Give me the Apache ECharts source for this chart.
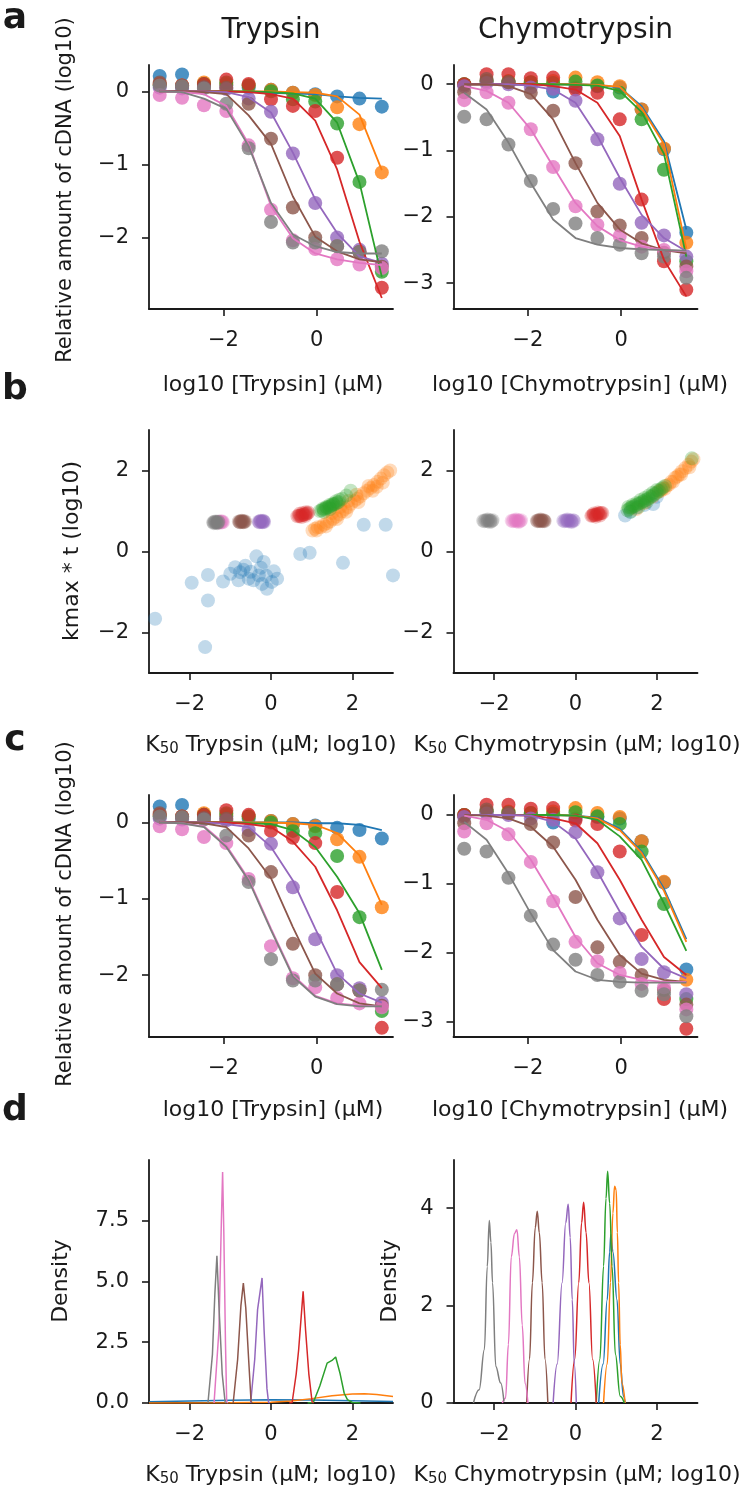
<!DOCTYPE html>
<html>
<head>
<meta charset="utf-8">
<script src="https://cdn.jsdelivr.net/npm/echarts@6.0.0/dist/echarts.min.js"></script>
<style>
  html, body { margin: 0; padding: 0; background: #fff; }
  #container { width: 743px; height: 1500px; }
</style>
</head>
<body>
<div id="container"></div>
<script>
var dom = document.getElementById('container');
var myChart = echarts.init(dom, null, { renderer: 'canvas' });

// ---- data ----
// colour order: blue, orange, green, red, purple, brown, pink, gray
var palette = ['#1f77b4', '#ff7f0e', '#2ca02c', '#d62728', '#9467bd', '#8c564b', '#e377c2', '#7f7f7f'];

// log10 protease concentration (uM), 3-fold dilutions
var concX = [-3.37, -2.89, -2.42, -1.94, -1.46, -0.98, -0.51, -0.03, 0.44, 0.92, 1.40];

// measured log10 relative cDNA (same points in panels a and c)
var trypsinPoints = [
  [0.21, 0.23, 0.10, 0.08, 0.05, 0.02, -0.02, -0.04, -0.07, -0.10, -0.21],
  [0.10, 0.08, 0.12, 0.10, 0.08, 0.02, -0.02, -0.05, -0.22, -0.45, -1.11],
  [0.08, 0.06, 0.10, 0.12, 0.08, 0.00, -0.11, -0.14, -0.44, -1.24, -2.47],
  [0.10, 0.08, 0.10, 0.16, 0.10, -0.11, -0.20, -0.27, -0.91, -2.20, -2.69],
  [0.05, 0.04, 0.05, 0.03, -0.10, -0.28, -0.85, -1.53, -2.00, -2.17, -2.36],
  [0.12, 0.08, 0.06, 0.05, -0.17, -0.65, -1.59, -2.00, -2.12, -2.20, -2.40],
  [-0.05, -0.09, -0.19, -0.27, -0.74, -1.62, -2.04, -2.16, -2.30, -2.37, -2.42],
  [0.08, 0.07, 0.04, -0.17, -0.78, -1.79, -2.07, -2.07, -2.12, -2.20, -2.19]
];
var chymoPoints = [
  [0.00, 0.05, 0.03, 0.02, -0.11, -0.05, -0.03, -0.05, -0.38, -0.98, -2.24],
  [0.00, 0.05, 0.05, 0.03, 0.05, 0.10, 0.03, -0.03, -0.38, -0.97, -2.39],
  [0.00, 0.05, 0.04, 0.03, 0.02, 0.04, -0.02, -0.13, -0.53, -1.29, -2.67],
  [0.00, 0.15, 0.15, 0.09, 0.10, -0.08, -0.13, -0.53, -1.74, -2.67, -3.10],
  [-0.03, 0.02, 0.00, -0.05, -0.07, -0.25, -0.83, -1.50, -2.09, -2.28, -2.60],
  [-0.12, 0.08, 0.03, -0.13, -0.40, -1.19, -1.92, -2.13, -2.32, -2.54, -2.75],
  [-0.24, -0.12, -0.28, -0.68, -1.25, -1.84, -2.12, -2.29, -2.45, -2.50, -2.82],
  [-0.49, -0.53, -0.91, -1.46, -1.88, -2.10, -2.32, -2.42, -2.55, -2.60, -2.92]
];

// fitted curves, panel a
var trypsinFitA = [
  [0, 0, 0, 0, -0.01, -0.02, -0.03, -0.04, -0.07, -0.09, -0.10],
  [0, 0, 0, 0, 0, 0, -0.01, -0.02, -0.07, -0.32, -1.08],
  [0, 0, 0, 0, 0, -0.01, -0.03, -0.10, -0.43, -1.25, -2.54],
  [0, 0, 0, 0, -0.01, -0.04, -0.10, -0.40, -1.07, -2.06, -2.83],
  [0, 0, 0, -0.01, -0.08, -0.29, -0.84, -1.48, -1.94, -2.26, -2.35],
  [0, 0, -0.01, -0.04, -0.33, -0.72, -1.44, -1.99, -2.19, -2.30, -2.34],
  [0, -0.01, -0.04, -0.20, -0.72, -1.57, -2.01, -2.22, -2.30, -2.35, -2.38],
  [0, -0.01, -0.10, -0.24, -0.75, -1.53, -1.96, -2.12, -2.20, -2.22, -2.22]
];
var chymoFitA = [
  [0, 0, 0, 0, 0, 0, -0.01, -0.05, -0.33, -0.86, -2.19],
  [0, 0, 0, 0, 0, 0, -0.01, -0.04, -0.36, -0.90, -2.48],
  [0, 0, 0, 0, 0, -0.01, -0.02, -0.10, -0.42, -1.05, -2.60],
  [0, 0, 0, 0, -0.03, -0.08, -0.28, -0.78, -1.74, -2.65, -3.20],
  [0, 0, 0, -0.02, -0.08, -0.28, -0.78, -1.41, -1.97, -2.32, -2.52],
  [0, 0, -0.03, -0.15, -0.53, -1.19, -1.79, -2.19, -2.40, -2.50, -2.55],
  [-0.03, -0.10, -0.28, -0.68, -1.24, -1.79, -2.14, -2.35, -2.45, -2.50, -2.52],
  [-0.13, -0.38, -0.88, -1.49, -2.04, -2.32, -2.42, -2.47, -2.49, -2.50, -2.51]
];

// fitted curves, panel c
var trypsinFitC = [
  [0, 0, 0, 0, 0, 0, 0, -0.01, -0.01, -0.03, -0.10],
  [0, 0, 0, 0, 0, 0, -0.01, -0.03, -0.14, -0.43, -1.08],
  [0, 0, 0, 0, -0.01, -0.02, -0.10, -0.32, -0.71, -1.19, -1.93],
  [0, 0, 0, 0, -0.02, -0.06, -0.25, -0.58, -1.15, -1.83, -2.17],
  [0, 0, 0, -0.02, -0.06, -0.32, -0.76, -1.39, -1.98, -2.24, -2.36],
  [0, 0, -0.01, -0.06, -0.34, -0.73, -1.37, -1.98, -2.24, -2.37, -2.41],
  [0, -0.01, -0.05, -0.30, -0.74, -1.39, -2.00, -2.27, -2.37, -2.40, -2.41],
  [0, -0.01, -0.06, -0.32, -0.76, -1.41, -2.02, -2.28, -2.38, -2.41, -2.41]
];
var chymoFitC = [
  [0, 0, 0, 0, 0, -0.01, -0.04, -0.20, -0.53, -1.07, -1.80],
  [0, 0, 0, 0, 0, -0.01, -0.05, -0.22, -0.55, -1.10, -1.84],
  [0, 0, 0, 0, 0, -0.01, -0.07, -0.31, -0.65, -1.28, -1.97],
  [0, 0, 0, -0.01, -0.05, -0.12, -0.41, -0.94, -1.52, -2.06, -2.32],
  [0, 0, 0, -0.01, -0.10, -0.34, -0.82, -1.40, -1.91, -2.23, -2.37],
  [0, -0.01, -0.05, -0.17, -0.46, -0.94, -1.52, -2.03, -2.30, -2.39, -2.42],
  [-0.01, -0.07, -0.24, -0.65, -1.19, -1.77, -2.15, -2.32, -2.39, -2.42, -2.42],
  [-0.10, -0.36, -0.85, -1.43, -1.96, -2.27, -2.39, -2.42, -2.43, -2.43, -2.43]
];

// panel b: posterior samples [K50, kmax*t]
var trypsinSamples = [
  [[-2.85, -1.66], [-1.95, -0.77], [-1.62, -2.36], [-1.55, -0.58], [-1.55, -1.21], [-1.18, -0.74], [-1.00, -0.55],
   [-0.88, -0.39], [-0.80, -0.71], [-0.76, -0.51], [-0.68, -0.45], [-0.63, -0.35], [-0.55, -0.67], [-0.50, -0.50],
   [-0.43, -0.71], [-0.36, -0.12], [-0.30, -0.59], [-0.25, -0.40], [-0.22, -0.80], [-0.18, -0.26], [-0.12, -0.60],
   [-0.10, -0.92], [0.02, -0.75], [0.07, -0.49], [0.15, -0.67], [0.72, -0.06], [0.95, -0.03], [1.77, -0.28],
   [2.28, 0.66], [2.82, 0.66], [3.00, -0.59]],
  [[1.02, 0.52], [1.08, 0.56], [1.15, 0.60], [1.22, 0.60], [1.30, 0.66], [1.38, 0.70], [1.45, 0.74], [1.52, 0.80],
   [1.60, 0.86], [1.68, 0.92], [1.75, 0.99], [1.82, 1.05], [1.90, 1.10], [1.97, 1.18], [2.05, 1.25], [2.12, 1.30],
   [2.20, 1.36], [2.28, 1.44], [2.36, 1.50], [2.45, 1.57], [2.53, 1.64], [2.62, 1.72], [2.70, 1.80], [2.78, 1.88],
   [2.86, 1.95], [2.93, 2.00], [1.70, 1.10], [1.90, 1.25], [2.10, 1.40], [2.40, 1.62], [1.50, 0.95], [2.60, 1.60],
   [1.12, 0.52], [1.35, 0.62], [1.62, 0.80], [1.85, 0.98], [2.15, 1.22], [2.50, 1.50], [2.75, 1.70]],
  [[1.20, 1.00], [1.25, 1.02], [1.30, 1.04], [1.34, 1.06], [1.38, 1.08], [1.42, 1.10], [1.46, 1.12], [1.50, 1.14],
   [1.54, 1.16], [1.58, 1.18], [1.62, 1.20], [1.66, 1.22], [1.28, 1.06], [1.36, 1.10], [1.44, 1.15], [1.52, 1.18],
   [1.60, 1.24], [1.68, 1.28], [1.30, 0.98], [1.45, 1.05], [1.75, 1.30], [1.85, 1.38], [1.96, 1.50]],
  [[0.65, 0.87], [0.68, 0.88], [0.71, 0.88], [0.74, 0.89], [0.77, 0.90], [0.80, 0.91], [0.83, 0.92], [0.86, 0.93],
   [0.89, 0.94], [0.92, 0.96], [0.70, 0.93], [0.78, 0.95], [0.86, 0.97], [0.75, 0.85], [0.85, 0.88]],
  [[-0.30, 0.74], [-0.28, 0.73], [-0.26, 0.75], [-0.24, 0.74], [-0.22, 0.73], [-0.20, 0.75], [-0.18, 0.74],
   [-0.17, 0.73], [-0.25, 0.76], [-0.21, 0.72], [-0.29, 0.72], [-0.19, 0.76]],
  [[-0.79, 0.74], [-0.77, 0.73], [-0.75, 0.75], [-0.73, 0.74], [-0.71, 0.73], [-0.69, 0.75], [-0.67, 0.74],
   [-0.65, 0.73], [-0.64, 0.75], [-0.72, 0.76], [-0.76, 0.72], [-0.68, 0.72]],
  [[-1.30, 0.73], [-1.27, 0.72], [-1.24, 0.74], [-1.22, 0.73], [-1.20, 0.72], [-1.18, 0.73], [-1.25, 0.71], [-1.21, 0.75]],
  [[-1.42, 0.72], [-1.40, 0.73], [-1.38, 0.71], [-1.36, 0.72], [-1.34, 0.73], [-1.33, 0.71], [-1.31, 0.72],
   [-1.30, 0.74], [-1.29, 0.72], [-1.37, 0.74], [-1.41, 0.70], [-1.32, 0.70]]
];
var chymoSamples = [
  [[1.22, 0.89], [1.35, 0.98], [1.50, 1.08], [1.70, 1.15], [1.91, 1.17], [2.00, 1.35]],
  [[1.50, 1.05], [1.70, 1.20], [1.90, 1.35], [2.05, 1.48], [2.10, 1.50], [2.15, 1.55], [2.25, 1.63], [2.30, 1.65],
   [2.35, 1.72], [2.45, 1.82], [2.50, 1.85], [2.55, 1.90], [2.62, 1.98], [2.70, 2.06], [2.78, 2.14], [2.85, 2.22], [2.90, 2.28],
   [2.20, 1.55], [2.40, 1.72], [2.60, 1.90], [2.80, 2.08]],
  [[1.28, 1.02], [1.32, 1.05], [1.36, 1.08], [1.40, 1.10], [1.45, 1.12], [1.50, 1.15], [1.55, 1.18], [1.60, 1.20],
   [1.65, 1.23], [1.70, 1.26], [1.75, 1.28], [1.80, 1.31], [1.85, 1.35], [1.90, 1.38], [1.95, 1.42], [2.00, 1.45],
   [2.05, 1.50], [2.10, 1.54], [2.15, 1.58], [2.20, 1.62], [1.30, 1.10], [1.40, 1.15], [1.50, 1.20], [1.60, 1.27],
   [1.70, 1.32], [1.80, 1.38], [1.90, 1.45], [2.00, 1.52], [1.35, 0.98], [1.55, 1.10], [1.75, 1.22], [2.86, 2.30]],
  [[0.39, 0.88], [0.42, 0.89], [0.45, 0.90], [0.48, 0.90], [0.51, 0.91], [0.54, 0.92], [0.57, 0.93], [0.60, 0.94],
   [0.63, 0.95], [0.66, 0.95], [0.45, 0.94], [0.55, 0.96], [0.50, 0.86], [0.60, 0.89]],
  [[-0.30, 0.76], [-0.27, 0.75], [-0.24, 0.77], [-0.21, 0.76], [-0.18, 0.75], [-0.15, 0.77], [-0.12, 0.76],
   [-0.09, 0.75], [-0.06, 0.77], [-0.04, 0.76], [-0.20, 0.79], [-0.10, 0.73]],
  [[-0.95, 0.76], [-0.93, 0.75], [-0.91, 0.77], [-0.89, 0.76], [-0.87, 0.75], [-0.85, 0.77], [-0.83, 0.76],
   [-0.81, 0.75], [-0.79, 0.77], [-0.77, 0.76], [-0.76, 0.75], [-0.86, 0.79]],
  [[-1.57, 0.76], [-1.54, 0.75], [-1.51, 0.77], [-1.48, 0.76], [-1.45, 0.75], [-1.42, 0.77], [-1.39, 0.76],
   [-1.36, 0.75], [-1.34, 0.77], [-1.46, 0.79], [-1.40, 0.73]],
  [[-2.27, 0.76], [-2.24, 0.75], [-2.21, 0.77], [-2.18, 0.76], [-2.15, 0.75], [-2.12, 0.77], [-2.09, 0.76],
   [-2.06, 0.75], [-2.04, 0.77], [-2.16, 0.79], [-2.10, 0.73]]
];

// panel d: K50 posterior densities [x, density]
var trypsinDensity = [
  [[-3, 0.05], [-2, 0.08], [-1, 0.11], [0, 0.13], [1, 0.12], [2, 0.09], [3, 0.06]],
  [[-3, 0.0], [-1, 0.01], [0, 0.03], [0.5, 0.08], [1, 0.18], [1.5, 0.30], [2, 0.37], [2.3, 0.38], [2.6, 0.35], [3, 0.27]],
  [[0.90, 0], [1.04, 0.02], [1.20, 0.70], [1.38, 1.64], [1.50, 1.75], [1.59, 1.89], [1.70, 1.20], [1.80, 0.40], [1.88, 0.14], [2.00, 0.02], [2.20, 0]],
  [[0.45, 0], [0.52, 0.02], [0.62, 1.20], [0.68, 2.19], [0.74, 3.50], [0.79, 4.59], [0.85, 3.00], [0.93, 1.20], [1.01, 0.05], [1.05, 0]],
  [[-0.50, 0], [-0.47, 0.02], [-0.40, 1.80], [-0.33, 3.84], [-0.29, 3.90], [-0.22, 5.14], [-0.17, 3.00], [-0.10, 0.60], [-0.06, 0.02], [-0.03, 0]],
  [[-0.93, 0], [-0.90, 0.03], [-0.82, 1.80], [-0.74, 4.00], [-0.68, 4.93], [-0.62, 3.90], [-0.55, 1.80], [-0.49, 0.05], [-0.46, 0]],
  [[-1.40, 0], [-1.37, 0.03], [-1.28, 3.00], [-1.22, 7.50], [-1.19, 9.50], [-1.16, 7.00], [-1.12, 2.50], [-1.09, 0.05], [-1.06, 0]],
  [[-1.55, 0], [-1.51, 0.03], [-1.44, 2.00], [-1.38, 4.50], [-1.33, 6.05], [-1.28, 4.00], [-1.20, 1.20], [-1.13, 0.05], [-1.10, 0]]
];
var chymoDensity = [
  [[0.57, 0], [0.68, 0.80], [0.78, 2.12], [0.84, 3.10], [0.87, 3.46], [0.92, 3.10], [1.02, 2.12], [1.10, 0.80], [1.18, 0.14], [1.22, 0]],
  [[0.69, 0], [0.78, 0.80], [0.86, 2.47], [0.92, 3.90], [0.96, 4.45], [1.00, 4.38], [1.03, 3.50], [1.06, 2.47], [1.10, 1.20], [1.14, 0.41], [1.22, 0]],
  [[0.51, 0], [0.60, 0.90], [0.69, 2.81], [0.75, 4.20], [0.79, 4.76], [0.84, 4.10], [0.90, 2.81], [0.98, 1.00], [1.10, 0.14], [1.20, 0]],
  [[-0.11, 0], [-0.02, 0.90], [0.08, 2.47], [0.15, 3.70], [0.20, 4.12], [0.26, 3.50], [0.33, 2.47], [0.42, 0.90], [0.51, 0]],
  [[-0.55, 0], [-0.45, 0.80], [-0.33, 2.47], [-0.24, 3.70], [-0.18, 4.08], [-0.13, 3.40], [-0.08, 2.12], [-0.03, 0.80], [0.02, 0]],
  [[-1.20, 0], [-1.13, 0.90], [-1.06, 2.47], [-0.99, 3.60], [-0.94, 3.94], [-0.89, 3.50], [-0.82, 2.47], [-0.75, 0.90], [-0.68, 0]],
  [[-1.80, 0], [-1.72, 0.10], [-1.65, 1.20], [-1.58, 3.00], [-1.50, 3.48], [-1.44, 3.56], [-1.38, 3.00], [-1.31, 1.60], [-1.24, 0.40], [-1.17, 0]],
  [[-2.51, 0], [-2.37, 0.27], [-2.24, 1.10], [-2.17, 2.80], [-2.12, 3.75], [-2.08, 3.30], [-2.04, 2.47], [-1.96, 0.75], [-1.84, 0.41], [-1.76, 0.03]]
];

// axis limits and ticks per panel (a-left, a-right, b-left, b-right, c-left, c-right, d-left, d-right)
var xLimits = [[-3.6, 1.64], [-3.6, 1.64], [-3, 3], [-3, 3], [-3.6, 1.64], [-3.6, 1.64], [-3, 3], [-3, 3]];
var xTicks = [[-2, 0], [-2, 0], [-2, 0, 2], [-2, 0, 2], [-2, 0], [-2, 0], [-2, 0, 2], [-2, 0, 2]];
var yLimits = [[-2.98, 0.36], [-3.39, 0.29], [-3, 3], [-3, 3], [-2.81, 0.36], [-3.22, 0.29], [0, 9.99], [0, 4.99]];
var yTicks = [[-2, -1, 0], [-3, -2, -1, 0], [-2, 0, 2], [-2, 0, 2], [-2, -1, 0], [-3, -2, -1, 0], [0, 2.5, 5, 7.5], [0, 2, 4]];

// ---- layout ----
var FONT = 'DejaVu Sans';
var INK = '#1a1a1a';
var colLeft = [149, 453.5];
var colWidth = 244;
var rowTop = [65, 430, 795, 1160];
var rowHeight = [244, 243, 242, 243];

function minusFmt(v) {
  return (v < 0 ? '\u2212' : '') + Math.abs(v);
}
function oneDecFmt(v) {
  return v.toFixed(1);
}

var grids = [], xAxes = [], yAxes = [], series = [];
for (var g = 0; g < 8; g++) {
  var r = Math.floor(g / 2), c = g % 2;
  grids.push({ left: colLeft[c], top: rowTop[r], width: colWidth, height: rowHeight[r], outerBoundsMode: 'none' });
  xAxes.push({
    gridIndex: g, type: 'value', min: xLimits[g][0], max: xLimits[g][1],
    axisLine: { onZero: false, lineStyle: { color: INK, width: 1.8 } },
    axisTick: { customValues: xTicks[g], length: 7, lineStyle: { color: INK, width: 1.6 } },
    axisLabel: { customValues: xTicks[g], formatter: minusFmt, fontSize: 21, fontFamily: FONT, color: INK, margin: 21 },
    splitLine: { show: false }
  });
  yAxes.push({
    gridIndex: g, type: 'value', min: yLimits[g][0], max: yLimits[g][1],
    axisLine: { show: true, onZero: false, lineStyle: { color: INK, width: 1.8 } },
    axisTick: { show: true, customValues: yTicks[g], length: 7, lineStyle: { color: INK, width: 1.6 } },
    axisLabel: { customValues: yTicks[g], formatter: g === 6 ? oneDecFmt : minusFmt, fontSize: 21, fontFamily: FONT, color: INK, margin: 20 },
    splitLine: { show: false }
  });
}

function addCurvePanel(g, points, fits) {
  for (var k = 0; k < palette.length; k++) {
    series.push({
      type: 'scatter', xAxisIndex: g, yAxisIndex: g, symbolSize: 14,
      itemStyle: { color: palette[k], opacity: 0.8 },
      data: concX.map(function (x, j) { return [x, points[k][j]]; })
    });
    series.push({
      type: 'line', xAxisIndex: g, yAxisIndex: g, symbol: 'none',
      lineStyle: { color: palette[k], width: 1.8 }, itemStyle: { color: palette[k] },
      data: concX.map(function (x, j) { return [x, fits[k][j]]; })
    });
  }
}
function addSamplePanel(g, samples) {
  for (var k = 0; k < palette.length; k++) {
    series.push({
      type: 'scatter', xAxisIndex: g, yAxisIndex: g, symbolSize: 14,
      itemStyle: { color: palette[k], opacity: 0.28 },
      data: samples[k]
    });
  }
}
function addDensityPanel(g, curves, smooth) {
  for (var k = 0; k < palette.length; k++) {
    series.push({
      type: 'line', xAxisIndex: g, yAxisIndex: g, symbol: 'none', smooth: smooth, smoothMonotone: 'x',
      lineStyle: { color: palette[k], width: 1.5 }, itemStyle: { color: palette[k] },
      data: curves[k]
    });
  }
}

addCurvePanel(0, trypsinPoints, trypsinFitA);
addCurvePanel(1, chymoPoints, chymoFitA);
addSamplePanel(2, trypsinSamples);
addSamplePanel(3, chymoSamples);
addCurvePanel(4, trypsinPoints, trypsinFitC);
addCurvePanel(5, chymoPoints, chymoFitC);
addDensityPanel(6, trypsinDensity, false);
addDensityPanel(7, chymoDensity, 0.4);

// ---- text ----
function label(x, y, text, size, opts) {
  opts = opts || {};
  return {
    type: 'text', x: x, y: y, rotation: opts.rotate ? Math.PI / 2 : 0, silent: true,
    style: {
      text: text, fontSize: size, fontFamily: FONT, fontWeight: opts.bold ? 'bold' : 'normal',
      fill: INK, align: 'center', verticalAlign: 'middle', lineHeight: size + 2,
      rich: { s: { fontSize: 15, fontFamily: FONT, fill: INK, lineHeight: 8, verticalAlign: 'bottom' } }
    }
  };
}

var graphics = [
  label(15, 19, 'a', 36, { bold: true }),
  label(15, 390, 'b', 36, { bold: true }),
  label(15, 741, 'c', 36, { bold: true }),
  label(15, 1111, 'd', 36, { bold: true }),
  label(271, 31, 'Trypsin', 28),
  label(575.5, 31, 'Chymotrypsin', 28),
  label(273, 385, 'log10 [Trypsin] (\u03bcM)', 22),
  label(580, 385, 'log10 [Chymotrypsin] (\u03bcM)', 22),
  label(271, 745, 'K{s|50} Trypsin (\u03bcM; log10)', 22),
  label(577, 745, 'K{s|50} Chymotrypsin (\u03bcM; log10)', 22),
  label(273, 1110, 'log10 [Trypsin] (\u03bcM)', 22),
  label(580, 1110, 'log10 [Chymotrypsin] (\u03bcM)', 22),
  label(271, 1475, 'K{s|50} Trypsin (\u03bcM; log10)', 22),
  label(577, 1475, 'K{s|50} Chymotrypsin (\u03bcM; log10)', 22),
  label(66, 190, 'Relative amount of cDNA (log10)', 21, { rotate: true }),
  label(72, 551, 'kmax * t (log10)', 22, { rotate: true }),
  label(66, 914, 'Relative amount of cDNA (log10)', 21, { rotate: true }),
  label(61, 1281, 'Density', 22, { rotate: true }),
  label(390, 1281, 'Density', 22, { rotate: true })
];

var option = {
  backgroundColor: '#fff',
  animation: false,
  grid: grids,
  xAxis: xAxes,
  yAxis: yAxes,
  series: series,
  graphic: graphics
};

myChart.setOption(option);
window.addEventListener('resize', myChart.resize);
</script>
</body>
</html>
